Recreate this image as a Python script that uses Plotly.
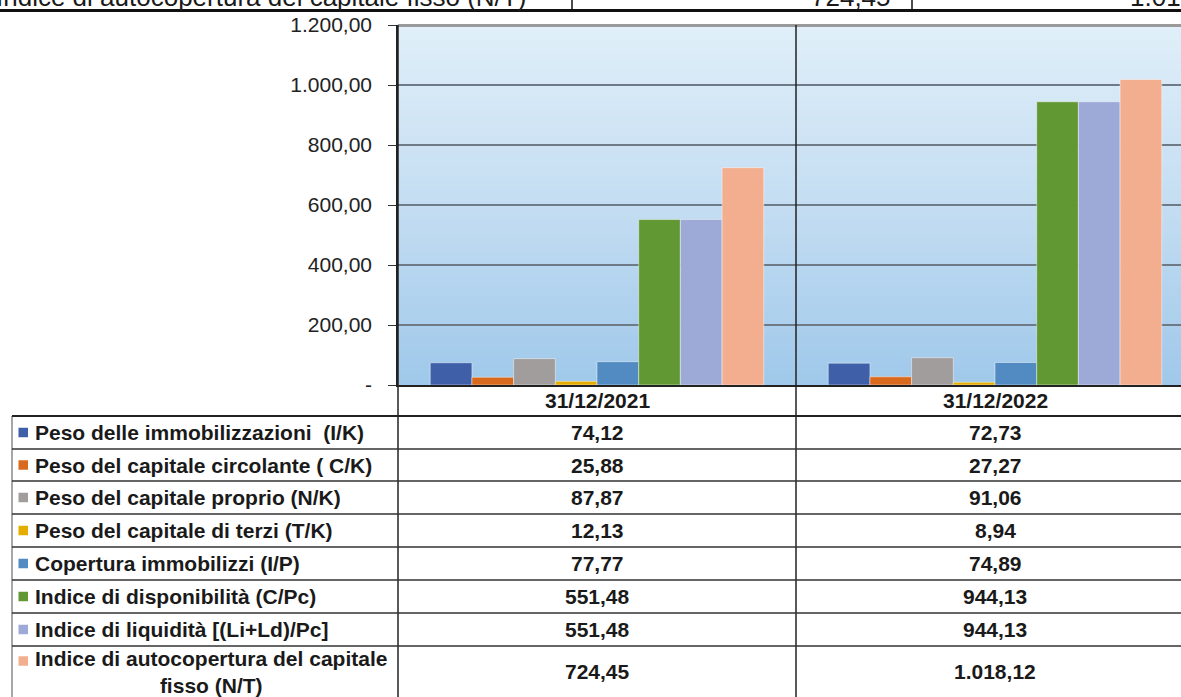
import plotly.graph_objects as go

W, H = 1181, 697

# ---------------- data ----------------
categories = ["31/12/2021", "31/12/2022"]
series_names = [
    "Peso delle immobilizzazioni  (I/K)",
    "Peso del capitale circolante ( C/K)",
    "Peso del capitale proprio (N/K)",
    "Peso del capitale di terzi (T/K)",
    "Copertura immobilizzi (I/P)",
    "Indice di disponibilità (C/Pc)",
    "Indice di liquidità [(Li+Ld)/Pc]",
    "Indice di autocopertura del capitale<br>fisso (N/T)",
]
values_2021 = [74.12, 25.88, 87.87, 12.13, 77.77, 551.48, 551.48, 724.45]
values_2022 = [72.73, 27.27, 91.06, 8.94, 74.89, 944.13, 944.13, 1018.12]
y_ticks = [0, 200, 400, 600, 800, 1000, 1200]
top_fragment_label = "Indice di autocopertura del capitale fisso (N/T)"
top_fragment_values = [724.45, 1018.12]

colors = ["#3F5FA8", "#D9691C", "#A09D9C", "#E5AD00",
          "#528BC1", "#629834", "#9DA9D6", "#F2AE8E"]

FONT = "Liberation Sans, Arial, Helvetica, sans-serif"
TXT = "#1a1a1a"


def it_fmt(v):
    s = f"{v:,.2f}"
    return s.replace(",", "X").replace(".", ",").replace("X", ".")


def X(px):
    return px / W


def Y(py):
    return 1 - py / H


# plot area in pixels
PL, PR, PT, PB = 398, 1181, 25, 385
cat_px = 398  # width of one category
x_range = [-0.5, -0.5 + (PR - PL) / cat_px]

fig = go.Figure()
for i, name in enumerate(series_names):
    fig.add_trace(go.Bar(
        x=[0, 1], y=[values_2021[i], values_2022[i]],
        name=name.replace("<br>", " "),
        marker=dict(color=colors[i], line=dict(color="rgba(255,255,255,0.45)", width=1)),
        showlegend=False, hoverinfo="skip",
    ))

shapes = []
# gradient background of plot area
N = 90
top_c = (224, 239, 249)
mid_c = (196, 221, 242)
bot_c = (159, 200, 234)


def lerp(a, b, t):
    return tuple(round(a[k] + (b[k] - a[k]) * t) for k in range(3))


for k in range(N):
    f0 = k / N
    f1 = (k + 1) / N
    fm = (f0 + f1) / 2
    if fm < 0.5:
        c = lerp(bot_c, mid_c, fm / 0.5)
    else:
        c = lerp(mid_c, top_c, (fm - 0.5) / 0.5)
    shapes.append(dict(type="rect", xref="x domain", yref="y domain",
                       x0=0, x1=1, y0=f0, y1=min(1, f1 + 0.004),
                       fillcolor="rgb(%d,%d,%d)" % c, line=dict(width=0),
                       layer="below"))


def hline(py, x0, x1, color="#222", width=1.5):
    shapes.append(dict(type="line", xref="paper", yref="paper",
                       x0=X(x0), x1=X(x1), y0=Y(py), y1=Y(py),
                       line=dict(color=color, width=width)))


def vline(px, y0, y1, color="#222", width=1.5):
    shapes.append(dict(type="line", xref="paper", yref="paper",
                       x0=X(px), x1=X(px), y0=Y(y0), y1=Y(y1),
                       line=dict(color=color, width=width)))


# top border of plot area
hline(PT + 0.5, PL, W, color="#9a9a9a", width=3)
# top fragment of preceding table
hline(10.5, 0, W, color="#111", width=3)
vline(572, 0, 10, color="#111", width=1.5)
vline(912, 0, 10, color="#111", width=1.5)

# table lines
row_lines = [416, 449, 481, 514, 547, 580, 613, 646]
vline(PL, PT, H, color="#222", width=1.5)
vline(796, PT, H, color="#222", width=1.5)
vline(12, 416, H, color="#888", width=1.5)
for j, py in enumerate(row_lines):
    hline(py, 12, W, color="#222" if j == 0 else "#333", width=1.8 if j == 0 else 1.5)

annotations = []
# top fragment texts (mostly cut off above the picture)
annotations.append(dict(xref="paper", yref="paper", x=X(528), y=Y(14.5),
                        xanchor="right", yanchor="bottom", showarrow=False,
                        text=top_fragment_label, font=dict(family=FONT, size=26, color=TXT)))
annotations.append(dict(xref="paper", yref="paper", x=X(893), y=Y(14.5),
                        xanchor="right", yanchor="bottom", showarrow=False,
                        text=it_fmt(top_fragment_values[0]), font=dict(family=FONT, size=26, color=TXT)))
annotations.append(dict(xref="paper", yref="paper", x=X(1128), y=Y(14.5),
                        xanchor="left", yanchor="bottom", showarrow=False,
                        text=it_fmt(top_fragment_values[1]), font=dict(family=FONT, size=26, color=TXT)))

# category header row (positioned through the x axis scale)
for xi, c in enumerate(categories):
    annotations.append(dict(xref="x", yref="paper", x=xi, y=Y(400.5),
                            xanchor="center", yanchor="middle", showarrow=False,
                            text="<b>%s</b>" % c, font=dict(family=FONT, size=21, color=TXT)))

# table rows
col_centers = [597, 995]
for i, name in enumerate(series_names):
    top = row_lines[i]
    bottom = row_lines[i + 1] if i + 1 < len(row_lines) else 697
    cy = (top + bottom) / 2
    if "<br>" in name:
        ly = top + 15
    else:
        ly = cy
    # legend key
    shapes.append(dict(type="rect", xref="paper", yref="paper",
                       x0=X(18.5), x1=X(28), y0=Y(ly + 4.75), y1=Y(ly - 4.75),
                       fillcolor=colors[i], line=dict(width=0)))
    annotations.append(dict(xref="paper", yref="paper", x=X(33), y=Y(cy),
                            xanchor="left", yanchor="middle", showarrow=False, align="center",
                            text="<b>%s</b>" % name,
                            font=dict(family=FONT, size=21, color=TXT)))
    for c, v in zip(col_centers, [values_2021[i], values_2022[i]]):
        annotations.append(dict(xref="paper", yref="paper", x=X(c), y=Y(cy),
                                xanchor="center", yanchor="middle", showarrow=False,
                                text="<b>%s</b>" % it_fmt(v),
                                font=dict(family=FONT, size=21, color=TXT)))

y_ticktext = ["-" if v == 0 else it_fmt(v) for v in y_ticks]

fig.update_layout(
    width=W, height=H,
    margin=dict(l=0, r=0, t=0, b=0, pad=0),
    paper_bgcolor="white",
    plot_bgcolor="rgba(0,0,0,0)",
    barmode="group", bargap=0.162, bargroupgap=0,
    shapes=shapes, annotations=annotations,
    xaxis=dict(domain=[X(PL), 1], range=x_range, tickvals=[0, 1],
               showticklabels=False,
               showgrid=False, zeroline=False, showline=True,
               linecolor="#222", linewidth=2, ticks="",
               automargin=False, fixedrange=True),
    yaxis=dict(domain=[Y(PB), Y(PT)], range=[0, 1200], tickvals=y_ticks,
               ticktext=y_ticktext, tickfont=dict(family=FONT, size=21, color="#222"),
               showgrid=True, gridcolor="#6E7B87", gridwidth=2, zeroline=False,
               showline=True, linecolor="#222", linewidth=1.5,
               ticks="outside", ticklen=8, tickcolor="#333", tickwidth=1,
               ticklabelstandoff=12, automargin=False, fixedrange=True),
    showlegend=False,
)

fig.write_html(
    "out.html",
    config={"displayModeBar": False},
    post_script="document.body.style.margin='0';document.body.style.overflow='hidden';",
)
